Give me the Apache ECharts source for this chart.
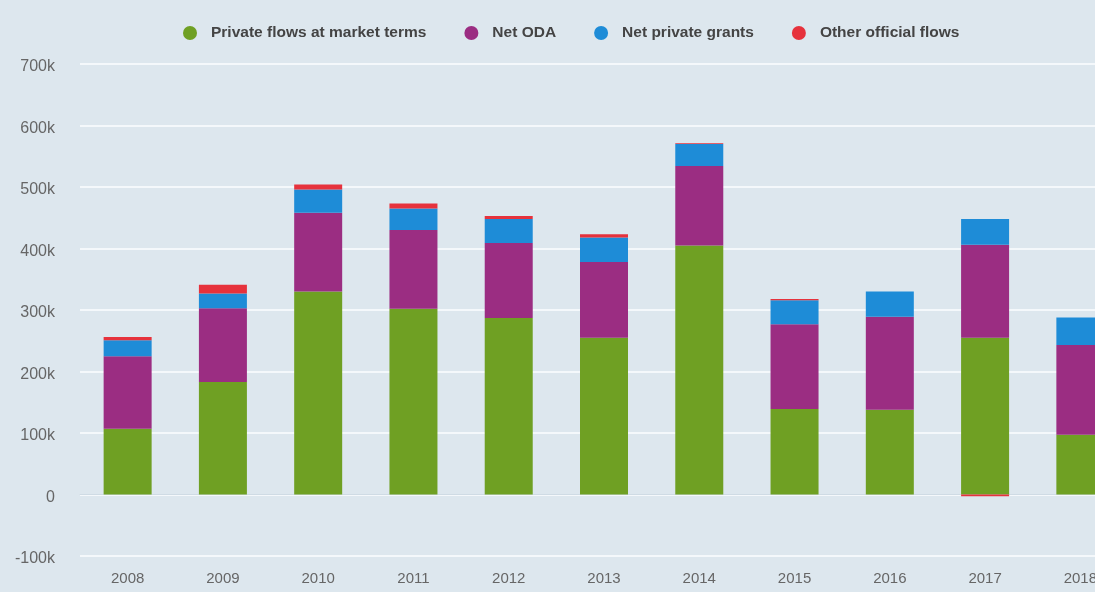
<!DOCTYPE html>
<html>
<head>
<meta charset="utf-8">
<script src="https://cdn.jsdelivr.net/npm/echarts@6/dist/echarts.min.js"></script>
<style>
  html, body { margin: 0; padding: 0; background: #dde7ee; overflow: hidden; }
  /* the plot runs past the right edge of the window, as in the reference */
  #chart { width: 1140px; height: 592px; }
</style>
</head>
<body>
<div id="chart"></div>
<script>
const years = ['2008', '2009', '2010', '2011', '2012', '2013', '2014', '2015', '2016', '2017', '2018'];
// values in thousands
const privateFlows = [107, 183, 330, 302, 287, 255, 405, 139, 138, 255, 97];
const netODA = [118, 120, 128, 128, 122, 123, 129, 138, 151, 151, 146];
const privateGrants = [26, 24, 38, 35, 39, 40, 36, 39, 41, 42, 45];
const otherOfficial = [5, 14, 8, 8, 5, 5, 1, 2, 0, -3, 0];

const seriesDefs = [
  { name: 'Private flows at market terms', data: privateFlows, color: '#6fa023' },
  { name: 'Net ODA', data: netODA, color: '#9b2d82' },
  { name: 'Net private grants', data: privateGrants, color: '#1e8cd7' },
  { name: 'Other official flows', data: otherOfficial, color: '#e6323c' }
];

const chart = echarts.init(document.getElementById('chart'));
chart.setOption({
  backgroundColor: '#dde7ee',
  animation: false,
  legend: {
    top: 20,
    left: 178,
    icon: 'circle',
    itemWidth: 14,
    itemHeight: 14,
    itemGap: 38,
    textStyle: {
      fontFamily: 'Liberation Sans', fontSize: 15.5, fontWeight: 'bold', color: '#444',
      padding: [0, 0, 0, 9]
    },
    data: seriesDefs.map((s) => s.name)
  },
  grid: { left: 80, top: 64, right: 12, height: 492 },
  xAxis: {
    type: 'category',
    data: years,
    axisLine: { lineStyle: { color: '#cfdbe4' } },
    axisTick: { show: false },
    axisLabel: { color: '#666', fontSize: 15, fontFamily: 'Liberation Sans', margin: 15 }
  },
  yAxis: {
    type: 'value',
    min: -100000,
    max: 700000,
    interval: 100000,
    axisLine: { show: false },
    axisTick: { show: false },
    splitLine: { lineStyle: { color: '#f4f8fb', width: 2 } },
    axisLabel: {
      color: '#666',
      fontSize: 16,
      fontFamily: 'Liberation Sans',
      margin: 25,
      verticalAlign: 'top',
      padding: [-5, 0, 0, 0],
      formatter: (v) => v === 0 ? '0' : (v / 1000) + 'k'
    }
  },
  series: seriesDefs.map((s) => ({
    name: s.name,
    type: 'bar',
    stack: 'total',
    barWidth: 48,
    itemStyle: { color: s.color },
    data: s.data.map((v) => v * 1000)
  }))
});
</script>
</body>
</html>
